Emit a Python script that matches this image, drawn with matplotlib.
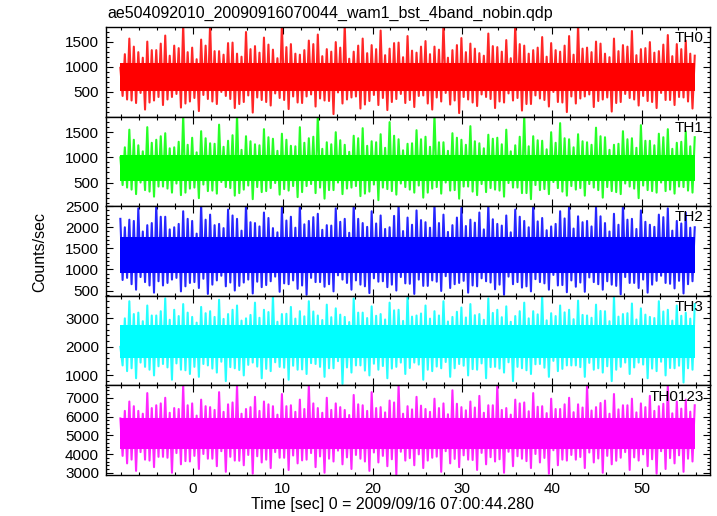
import numpy as np
import matplotlib
matplotlib.use("Agg")
import matplotlib.pyplot as plt
from matplotlib.ticker import MultipleLocator

plt.rcParams['font.family'] = ['Liberation Sans', 'DejaVu Sans']

title = "ae504092010_20090916070044_wam1_bst_4band_nobin.qdp"
xlabel = "Time [sec] 0 = 2009/09/16 07:00:44.280"
ylabel = "Counts/sec"

t_start, t_end = -8.1, 55.9
bands = ["TH0", "TH1", "TH2", "TH3", "TH0123"]
colors = ["#ff0000", "#00ff00", "#0000ff", "#00ffff", "#ff00ff"]
ylims = [(10, 1790), (30, 1810), (375, 2500), (650, 3790), (2880, 7660)]
yticks = [[500, 1000, 1500], [500, 1000, 1500], [500, 1000, 1500, 2000, 2500],
          [1000, 2000, 3000], [3000, 4000, 5000, 6000, 7000]]
yminor = [100, 100, 100, 200, 200]

# dense part of each light curve (solid colour band)
core_lo = [520, 540, 920, 1600, 4250]
core_hi = [1080, 1040, 1760, 2760, 5900]

# spike envelope, once per second:
# hi = big peaks, lo = deep dips, hi_b / lo_b = smaller peaks / dips in between
hi_th0 = [980, 1560, 1290, 1500, 1330, 1620, 1420, 1850, 1380, 1540,
          1850, 1310, 1470, 1260, 1690, 1410, 1580, 1340, 1850, 1450,
          1240, 1520, 1640, 1350, 1490, 1850, 1300, 1560, 1430, 1720,
          1360, 1480, 1610, 1280, 1510, 1400, 1850, 1330, 1570, 1460,
          1270, 1660, 1390, 1530, 1850, 1420, 1330, 1590, 1470, 1300,
          1610, 1850, 1380, 1500, 1260, 1560, 1430, 1710, 1350, 1490,
          1310, 1630, 1450, 1520, 1220]
lo_th0 = [350, 280, 150, 330, 240, 400, 190, 310, 120, 360,
          260, 420, 180, 300, 90, 340, 230, 380, 160, 290,
          410, 210, 330, 60, 270, 390, 170, 320, 240, 140,
          360, 280, 200, 430, 150, 310, 250, 80, 350, 220,
          400, 180, 290, 330, 130, 260, 370, 210, 300, 100,
          270, 410, 200, 350, 110, 300, 380, 230, 320, 180,
          340, 240, 390, 170]
hi_b_th0 = [1250, 1400, 1180, 1330, 1460, 1220, 1370, 1290, 1150, 1420,
            1310, 1240, 1480, 1200, 1350, 1280, 1440, 1170, 1390, 1260,
            1330, 1450, 1210, 1300, 1380, 1160, 1420, 1270, 1350, 1230,
            1470, 1190, 1320, 1400, 1250, 1340, 1180, 1430, 1290, 1360,
            1220, 1410, 1300, 1170, 1450, 1260, 1380, 1200, 1330, 1420,
            1240, 1360, 1290, 1460, 1190, 1310, 1400, 1230, 1370, 1280,
            1440, 1210, 1350, 1260]
lo_b_th0 = [420, 330, 480, 290, 400, 350, 460, 270, 380, 440,
            310, 500, 360, 260, 430, 390, 300, 470, 340, 410,
            280, 450, 370, 320, 490, 350, 410, 250, 440, 380,
            300, 460, 340, 420, 270, 390, 480, 330, 400, 290,
            450, 360, 310, 470, 380, 260, 430, 340, 500, 290,
            410, 370, 450, 320, 390, 280, 460, 350, 420, 300,
            480, 340, 400, 310]

hi_th1 = [1000, 1550, 1240, 1600, 1350, 1480, 1200, 1850, 1390, 1520,
          1280, 1650, 1330, 1850, 1420, 1260, 1560, 1370, 1470, 1230,
          1600, 1380, 1850, 1300, 1500, 1250, 1430, 1580, 1320, 1460,
          1700, 1360, 1270, 1540, 1410, 1850, 1300, 1480, 1350, 1620,
          1280, 1450, 1390, 1550, 1240, 1850, 1420, 1330, 1500, 1680,
          1360, 1460, 1300, 1590, 1400, 1250, 1520, 1380, 1640, 1330,
          1470, 1560, 1290, 1520, 1400]
lo_th1 = [400, 270, 350, 220, 420, 300, 250, 380, 190, 330,
          280, 410, 240, 360, 170, 310, 390, 260, 340, 210,
          430, 290, 180, 350, 270, 400, 230, 320, 150, 370,
          260, 410, 300, 200, 380, 280, 340, 180, 420, 250,
          310, 360, 220, 400, 290, 170, 350, 270, 390, 240,
          360, 240, 400, 200, 330, 270, 420, 190, 350, 300,
          330, 280, 410, 300]
hi_b_th1 = [1200, 1350, 1120, 1290, 1420, 1180, 1310, 1250, 1100, 1380,
            1270, 1210, 1440, 1150, 1320, 1240, 1400, 1130, 1350, 1220,
            1290, 1410, 1170, 1260, 1340, 1110, 1380, 1230, 1300, 1190,
            1430, 1140, 1280, 1360, 1210, 1300, 1130, 1390, 1250, 1320,
            1180, 1370, 1260, 1120, 1410, 1220, 1340, 1160, 1290, 1380,
            1200, 1320, 1250, 1420, 1150, 1270, 1360, 1190, 1330, 1240,
            1400, 1170, 1310, 1220]
lo_b_th1 = [450, 360, 500, 320, 420, 380, 480, 300, 400, 460,
            340, 510, 390, 290, 440, 410, 330, 490, 370, 430,
            310, 470, 400, 350, 500, 380, 430, 280, 460, 400,
            330, 480, 360, 440, 300, 410, 500, 350, 420, 320,
            470, 390, 340, 490, 400, 290, 450, 370, 510, 320,
            430, 390, 470, 350, 410, 310, 480, 380, 440, 330,
            500, 360, 420, 340]

hi_th2 = [2200, 2180, 2450, 2050, 2550, 2250, 2000, 2380, 2150, 2550,
          2300, 2080, 2420, 2200, 2550, 2100, 2350, 1980, 2480, 2250,
          2550, 2150, 2320, 2050, 2450, 2200, 2550, 2100, 2380, 2280,
          2000, 2550, 2230, 2400, 2120, 2550, 2300, 2050, 2460, 2180,
          2350, 2550, 2080, 2280, 2420, 2150, 2550, 2220, 2020, 2380,
          2550, 2260, 2150, 2480, 2100, 2320, 2550, 2200, 2400, 2060,
          2300, 2450, 2150, 2350, 2000]
lo_th2 = [800, 520, 700, 450, 620, 760, 480, 680, 560, 420,
          740, 600, 500, 690, 430, 580, 720, 470, 650, 540,
          400, 700, 590, 480, 760, 520, 640, 440, 710, 580,
          500, 670, 420, 610, 740, 490, 560, 680, 450, 600,
          720, 530, 400, 650, 570, 480, 700, 520, 620, 460,
          590, 470, 700, 520, 640, 410, 680, 560, 450, 730,
          680, 550, 430, 720]
hi_b_th2 = [2000, 2150, 1900, 2100, 2250, 1950, 2080, 2200, 1850, 2180,
            2050, 1980, 2280, 1920, 2120, 2020, 2220, 1880, 2160, 1990,
            2070, 2240, 1940, 2040, 2130, 1870, 2200, 2010, 2090, 1960,
            2270, 1910, 2060, 2170, 1990, 2100, 1890, 2230, 2030, 2110,
            1950, 2190, 2040, 1880, 2250, 2000, 2140, 1930, 2080, 2210,
            1970, 2120, 2020, 2260, 1900, 2060, 2180, 1960, 2130, 2010,
            2240, 1920, 2090, 1990]
lo_b_th2 = [750, 650, 820, 620, 720, 680, 800, 600, 700, 780,
            640, 850, 690, 610, 760, 710, 630, 830, 670, 740,
            620, 800, 700, 650, 860, 680, 740, 600, 790, 720,
            640, 820, 660, 760, 610, 710, 840, 650, 730, 620,
            790, 690, 640, 830, 700, 600, 770, 670, 870, 630,
            740, 690, 810, 650, 720, 610, 820, 680, 760, 640,
            850, 660, 730, 650]

hi_th3 = [2000, 3600, 3200, 3450, 3100, 3700, 3300, 3500, 3050, 3400,
          3250, 3650, 3150, 3450, 3000, 3550, 3300, 3800, 3150, 3400,
          3250, 3600, 3100, 3480, 3350, 3050, 3700, 3200, 3420, 3150,
          3550, 3300, 3800, 3100, 3450, 3250, 3600, 3050, 3380, 3500,
          3150, 3700, 3300, 3420, 3080, 3550, 3250, 3800, 3180, 3450,
          3300, 3620, 3100, 3480, 3250, 3800, 3150, 3520, 3350, 3050,
          3600, 3300, 3450, 3200, 3500]
lo_th3 = [1150, 900, 1300, 1000, 1400, 850, 1200, 1050, 950, 1350,
          1100, 800, 1250, 1000, 1450, 900, 1150, 1300, 850, 1200,
          1050, 1400, 950, 1250, 700, 1100, 1350, 1000, 1200, 900,
          1300, 1050, 1450, 850, 1150, 1250, 950, 1400, 1000, 1200,
          900, 1300, 1100, 800, 1250, 1050, 1400, 950, 1150, 1350,
          1350, 950, 1200, 1100, 800, 1300, 1050, 1450, 900, 1150,
          1000, 1250, 750, 1200]
hi_b_th3 = [3000, 3150, 2900, 3100, 3250, 2950, 3080, 3200, 2850, 3180,
            3050, 2980, 3300, 2920, 3120, 3020, 3220, 2880, 3160, 2990,
            3070, 3240, 2940, 3040, 3130, 2870, 3200, 3010, 3090, 2960,
            3280, 2910, 3060, 3170, 2990, 3100, 2890, 3230, 3030, 3110,
            2950, 3190, 3040, 2880, 3250, 3000, 3140, 2930, 3080, 3210,
            2970, 3120, 3020, 3260, 2900, 3060, 3180, 2960, 3130, 3010,
            3240, 2920, 3090, 2990]
lo_b_th3 = [1350, 1250, 1450, 1200, 1320, 1280, 1420, 1180, 1300, 1400,
            1240, 1480, 1290, 1190, 1370, 1310, 1230, 1460, 1270, 1340,
            1210, 1430, 1300, 1250, 1500, 1280, 1350, 1170, 1410, 1330,
            1240, 1450, 1260, 1380, 1200, 1310, 1470, 1250, 1340, 1220,
            1420, 1290, 1240, 1460, 1300, 1180, 1390, 1270, 1510, 1230,
            1350, 1290, 1440, 1250, 1320, 1200, 1450, 1280, 1380, 1240,
            1480, 1260, 1340, 1250]

hi_th0123 = [5900, 6800, 6300, 7250, 6600, 7000, 6450, 7700, 6700, 6900,
             6500, 7300, 6650, 7700, 6400, 7050, 6800, 6550, 7200, 6600,
             6900, 7700, 6450, 7000, 6700, 6350, 7150, 6600, 7300, 6500,
             6850, 7700, 6550, 7050, 6400, 6950, 6700, 7400, 6500, 6800,
             7100, 6600, 7700, 6450, 6900, 6750, 7250, 6550, 6950, 6400,
             7000, 6650, 7700, 6500, 6850, 7200, 6600, 6950, 6700, 7100,
             6550, 7700, 6800, 6900, 6600]
lo_th0123 = [3500, 3100, 3700, 3300, 3850, 3000, 3450, 3600, 3200, 3750,
             3350, 3050, 3650, 3400, 2950, 3550, 3250, 3800, 3150, 3500,
             3700, 3300, 3000, 3600, 3450, 3200, 3750, 3100, 3550, 3350,
             2900, 3650, 3400, 3250, 3800, 3050, 3500, 3300, 3700, 3150,
             3450, 3600, 3000, 3350, 3750, 3250, 3550, 2950, 3400, 3650,
             3700, 3250, 3550, 3000, 3450, 3800, 3150, 3650, 3350, 2950,
             3200, 3500, 3050, 3600]
hi_b_th0123 = [6300, 6550, 6150, 6450, 6700, 6200, 6400, 6600, 6050, 6550,
               6350, 6250, 6750, 6150, 6500, 6300, 6650, 6100, 6550, 6250,
               6400, 6700, 6200, 6350, 6500, 6080, 6650, 6300, 6450, 6220,
               6750, 6150, 6380, 6580, 6250, 6450, 6120, 6680, 6330, 6480,
               6200, 6600, 6350, 6100, 6700, 6280, 6520, 6180, 6400, 6650,
               6230, 6480, 6320, 6720, 6150, 6380, 6600, 6220, 6500, 6300,
               6680, 6170, 6420, 6260]
lo_b_th0123 = [3900, 3700, 4100, 3650, 3850, 3800, 4050, 3620, 3900, 4000,
               3750, 4150, 3850, 3640, 3950, 3880, 3700, 4100, 3800, 3920,
               3660, 4050, 3870, 3750, 4180, 3820, 3950, 3600, 4080, 3900,
               3720, 4120, 3780, 3980, 3650, 3860, 4150, 3740, 3930, 3680,
               4060, 3830, 3720, 4120, 3880, 3620, 4000, 3790, 4200, 3700,
               3950, 3840, 4080, 3760, 3900, 3640, 4100, 3820, 3980, 3720,
               4150, 3780, 3930, 3750]

highs = [hi_th0, hi_th1, hi_th2, hi_th3, hi_th0123]
lows = [lo_th0, lo_th1, lo_th2, lo_th3, lo_th0123]
highs_b = [hi_b_th0, hi_b_th1, hi_b_th2, hi_b_th3, hi_b_th0123]
lows_b = [lo_b_th0, lo_b_th1, lo_b_th2, lo_b_th3, lo_b_th0123]

W, H = 717, 516
left, right, top, bottom = 106, 710, 27, 475
ph = (bottom - top) / len(bands)

fig = plt.figure(figsize=(W / 100, H / 100), dpi=100)

for i, name in enumerate(bands):
    ax = fig.add_axes([left / W, 1 - (top + ph * (i + 1)) / H, (right - left) / W, ph / H])
    c = colors[i]
    n = len(lows[i])
    # one second = peak, small dip, small peak, deep dip
    ys = np.empty(4 * n + 1)
    ys[0::4] = highs[i]
    ys[1::4] = lows_b[i]
    ys[2::4] = highs_b[i]
    ys[3::4] = lows[i]
    xs = np.linspace(t_start, t_end, len(ys))

    ax.fill_between([t_start, t_end], core_lo[i], core_hi[i], color=c, lw=0)
    ax.plot(xs, ys, color=c, lw=1.5, alpha=0.85)

    ax.set_xlim(-9.7, 57.6)
    ax.set_ylim(*ylims[i])
    ax.set_yticks(yticks[i])
    ax.yaxis.set_minor_locator(MultipleLocator(yminor[i]))
    ax.xaxis.set_major_locator(MultipleLocator(10))
    ax.xaxis.set_minor_locator(MultipleLocator(2))
    ax.tick_params(which='both', direction='in', top=True, right=True, width=0.8)
    ax.tick_params(which='major', length=5, labelsize=11, pad=5)
    ax.tick_params(which='minor', length=2.5)
    if i < len(bands) - 1:
        ax.tick_params(labelbottom=False)
    for sp in ax.spines.values():
        sp.set_linewidth(1.0)
    ax.text(0.99, 0.875, name, transform=ax.transAxes, ha='right', va='center', fontsize=11)

fig.text(107 / W, 1 - 13 / H, title, ha='left', va='center', fontsize=11.5)
fig.text(392 / W, 1 - 505 / H, xlabel, ha='center', va='center', fontsize=11.5)
fig.text(40 / W, 1 - 252 / H, ylabel, ha='center', va='center', rotation=90, fontsize=11.5)

fig.savefig("out.png", dpi=100)
